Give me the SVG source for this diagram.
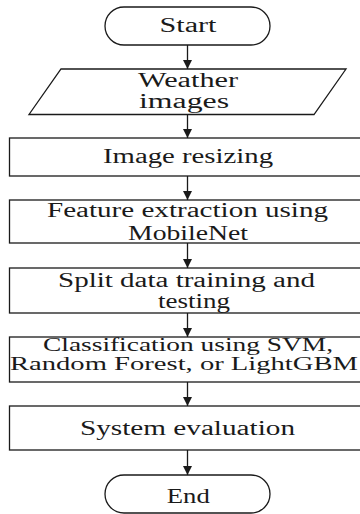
<svg xmlns="http://www.w3.org/2000/svg" width="360" height="514" viewBox="0 0 360 514">
<style>
.s{fill:#fff;stroke:#1a1a1a;stroke-width:1.3}
.t{font-family:"Liberation Serif","Times New Roman",serif;font-size:20px;fill:#1a1a1a;text-anchor:middle}
.sm{font-size:18.5px}
.c{stroke:#1a1a1a;stroke-width:1.3;fill:none}
</style>
<defs>
<marker id="ah" markerWidth="9" markerHeight="9" refX="9" refY="4.5" orient="auto" markerUnits="userSpaceOnUse">
<path d="M0,0 L9,4.5 L0,9 Z" fill="#1a1a1a"/>
</marker>
</defs>
<rect width="360" height="514" fill="#fff"/>
<g id="connectors">
<line class="c" x1="187.5" y1="45" x2="187.5" y2="69" marker-end="url(#ah)"/>
<line class="c" x1="187.5" y1="114.5" x2="187.5" y2="138" marker-end="url(#ah)"/>
<line class="c" x1="187.5" y1="176" x2="187.5" y2="200" marker-end="url(#ah)"/>
<line class="c" x1="187.5" y1="243" x2="187.5" y2="268" marker-end="url(#ah)"/>
<line class="c" x1="187.5" y1="313" x2="187.5" y2="337" marker-end="url(#ah)"/>
<line class="c" x1="187.5" y1="382" x2="187.5" y2="406" marker-end="url(#ah)"/>
<line class="c" x1="187.5" y1="450" x2="187.5" y2="475" marker-end="url(#ah)"/>
</g>
<g id="start">
<rect class="s" x="105" y="7" width="165" height="38" rx="19" ry="19"/>
<text class="t" x="188" y="31.5" textLength="57" lengthAdjust="spacingAndGlyphs">Start</text>
</g>
<g id="weather">
<polygon class="s" points="61,69 346,69 314,114.5 29,114.5"/>
<text class="t" x="188" y="87" textLength="100" lengthAdjust="spacingAndGlyphs">Weather</text>
<text class="t" x="184" y="108" textLength="90" lengthAdjust="spacingAndGlyphs">images</text>
</g>
<g id="resize">
<rect class="s" x="9.5" y="138" width="357" height="38"/>
<text class="t" x="188" y="163.3" textLength="170" lengthAdjust="spacingAndGlyphs">Image resizing</text>
</g>
<g id="feature">
<rect class="s" x="9.5" y="200" width="357" height="43"/>
<text class="t" x="187.5" y="217.3" textLength="281" lengthAdjust="spacingAndGlyphs">Feature extraction using</text>
<text class="t" x="188" y="240" textLength="120" lengthAdjust="spacingAndGlyphs">MobileNet</text>
</g>
<g id="split">
<rect class="s" x="9.5" y="268" width="357" height="45"/>
<text class="t" x="186.5" y="286.7" textLength="257" lengthAdjust="spacingAndGlyphs">Split data training and</text>
<text class="t" x="194" y="307.7" textLength="72" lengthAdjust="spacingAndGlyphs">testing</text>
</g>
<g id="classify">
<rect class="s" x="9.5" y="337" width="357" height="45"/>
<text class="t sm" x="188" y="350.7" textLength="290" lengthAdjust="spacingAndGlyphs">Classification using SVM,</text>
<text class="t sm" x="184" y="370" textLength="348" lengthAdjust="spacingAndGlyphs">Random Forest, or LightGBM</text>
</g>
<g id="evaluate">
<rect class="s" x="9.5" y="406" width="357" height="44"/>
<text class="t" x="187.5" y="435" textLength="215" lengthAdjust="spacingAndGlyphs">System evaluation</text>
</g>
<g id="end">
<rect class="s" x="105" y="475" width="165" height="38" rx="19" ry="19"/>
<text class="t" x="188.3" y="503" textLength="43" lengthAdjust="spacingAndGlyphs">End</text>
</g>
</svg>
